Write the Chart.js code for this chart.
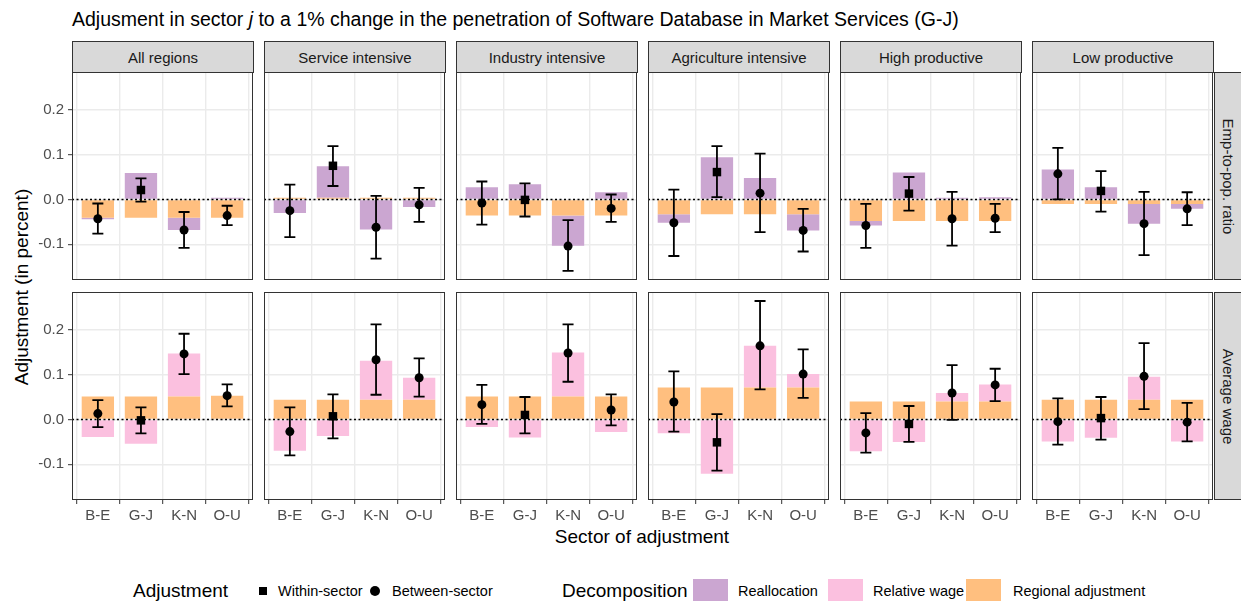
<!DOCTYPE html>
<html>
<head>
<meta charset="utf-8">
<script src="https://cdn.jsdelivr.net/npm/chart.js@4/dist/chart.umd.min.js"></script>
<style>
  body { margin: 0; background: #fff; font-family: "Liberation Sans", Arial, sans-serif; }
  #wrap { position: relative; width: 1241px; height: 601px; overflow: hidden; background: #fff; }
  canvas { position: absolute; }
  .strip { position: absolute; box-sizing: border-box; background: #D9D9D9; border: 1px solid #333;
           color: #1A1A1A; font-size: 15px; display: flex; align-items: center; justify-content: center; white-space: nowrap; }
  .txt { position: absolute; white-space: nowrap; }
  .title { left: 72px; top: 8px; font-size: 19.5px; color: #000; }
  .axtitle { font-size: 19px; color: #000; }
  .leg-title { font-size: 19px; color: #000; top: 580px; }
  .leg-lab { font-size: 14.5px; color: #000; top: 583px; }
  .sw { position: absolute; top: 579px; width: 35px; height: 24px; }
</style>
</head>
<body>
<div id="wrap">
  <div class="txt title">Adjusment in sector <i>j</i> to a 1% change in the penetration of Software Database in Market Services (G-J)</div>
  <div class="txt axtitle" style="left:22px; top:287px; transform:translate(-50%,-50%) rotate(-90deg);">Adjustment (in percent)</div>
  <div class="txt axtitle" style="left:642px; top:537px; transform:translate(-50%,-50%);">Sector of adjustment</div>

  <div class="txt leg-title" style="left:133px;">Adjustment</div>
  <div style="position:absolute; left:259px; top:587px; width:8px; height:8px; background:#000;"></div>
  <div class="txt leg-lab" style="left:278px;">Within-sector</div>
  <div style="position:absolute; left:370px; top:586px; width:10px; height:10px; border-radius:50%; background:#000;"></div>
  <div class="txt leg-lab" style="left:392px;">Between-sector</div>
  <div class="txt leg-title" style="left:562px;">Decomposition</div>
  <div class="sw" style="left:693px; background:#CBA6D1;"></div>
  <div class="txt leg-lab" style="left:738px;">Reallocation</div>
  <div class="sw" style="left:828px; background:#FBC0DF;"></div>
  <div class="txt leg-lab" style="left:873px;">Relative wage</div>
  <div class="sw" style="left:966px; background:#FFBF7F;"></div>
  <div class="txt leg-lab" style="left:1013px;">Regional adjustment</div>
</div>
<script>
const sectors = ['B-E', 'G-J', 'K-N', 'O-U'];
const regions = ['All regions', 'Service intensive', 'Industry intensive', 'Agriculture intensive', 'High productive', 'Low productive'];
const outcomes = ['Emp-to-pop. ratio', 'Average wage'];
const withinSector = 'G-J';
const yTicks = [-0.1, 0.0, 0.1, 0.2];

// Emp-to-pop. ratio: one row per region, one value per sector
const empRegional = [
  [-0.041, -0.041, -0.041, -0.041],
  [0.004, 0.004, 0.004, 0.004],
  [-0.036, -0.036, -0.036, -0.036],
  [-0.033, -0.033, -0.033, -0.033],
  [-0.048, -0.048, -0.048, -0.048],
  [-0.010, -0.010, -0.010, -0.010]
];
const empRealloc = [
  [-0.003, 0.059, -0.027, 0.004],
  [-0.030, 0.070, -0.067, -0.017],
  [0.027, 0.034, -0.067, 0.016],
  [-0.019, 0.094, 0.048, -0.036],
  [-0.010, 0.060, 0.004, 0.005],
  [0.067, 0.027, -0.044, -0.011]
];
const empTotal = [
  [-0.043, 0.021, -0.068, -0.036],
  [-0.025, 0.075, -0.062, -0.012],
  [-0.008, -0.001, -0.104, -0.020],
  [-0.052, 0.061, 0.014, -0.069],
  [-0.058, 0.013, -0.043, -0.042],
  [0.057, 0.019, -0.054, -0.021]
];
const empLow = [
  [-0.076, -0.005, -0.108, -0.057],
  [-0.084, 0.030, -0.132, -0.050],
  [-0.056, -0.038, -0.159, -0.050],
  [-0.126, 0.005, -0.073, -0.116],
  [-0.108, -0.025, -0.103, -0.073],
  [0.000, -0.027, -0.124, -0.057]
];
const empHigh = [
  [-0.009, 0.047, -0.028, -0.014],
  [0.033, 0.119, 0.008, 0.026],
  [0.040, 0.036, -0.046, 0.011],
  [0.022, 0.119, 0.102, -0.021],
  [-0.010, 0.050, 0.017, -0.010],
  [0.115, 0.063, 0.017, 0.016]
];

// Average wage
const wageRegional = [
  [0.051, 0.051, 0.051, 0.053],
  [0.044, 0.044, 0.044, 0.044],
  [0.051, 0.051, 0.051, 0.051],
  [0.071, 0.071, 0.071, 0.071],
  [0.040, 0.040, 0.040, 0.040],
  [0.044, 0.044, 0.044, 0.044]
];
const wageRelWage = [
  [-0.039, -0.054, 0.096, 0.000],
  [-0.070, -0.037, 0.087, 0.049],
  [-0.017, -0.040, 0.098, -0.028],
  [-0.031, -0.121, 0.093, 0.030],
  [-0.071, -0.050, 0.019, 0.038],
  [-0.049, -0.041, 0.051, -0.049]
];
const wageTotal = [
  [0.013, -0.002, 0.146, 0.053],
  [-0.027, 0.007, 0.133, 0.093],
  [0.033, 0.010, 0.148, 0.021],
  [0.039, -0.051, 0.164, 0.101],
  [-0.030, -0.010, 0.059, 0.077],
  [-0.005, 0.003, 0.096, -0.006]
];
const wageLow = [
  [-0.017, -0.031, 0.101, 0.029],
  [-0.080, -0.042, 0.055, 0.051],
  [-0.010, -0.031, 0.084, -0.013],
  [-0.027, -0.114, 0.067, 0.048],
  [-0.074, -0.050, -0.001, 0.041],
  [-0.056, -0.045, 0.023, -0.049]
];
const wageHigh = [
  [0.043, 0.027, 0.191, 0.078],
  [0.027, 0.056, 0.212, 0.136],
  [0.077, 0.050, 0.212, 0.056],
  [0.107, 0.012, 0.264, 0.156],
  [0.014, 0.030, 0.121, 0.113],
  [0.047, 0.050, 0.170, 0.037]
];

const COL_REALLOC = '#CBA6D1';
const COL_RELWAGE = '#FBC0DF';
const COL_REGIONAL = '#FFBF7F';
const FONT = '"Liberation Sans", Arial, sans-serif';

const PANEL_W = 181, PANEL_H = 208, PITCH = 192, LEFT0 = 72;
const ROW_TOPS = [72, 292];
const Y_W = 50, X_H = 28;
const Y_MIN = -0.1795, Y_MAX = 0.284;

const rows = [
  { bars: [[empRegional, COL_REGIONAL], [empRealloc, COL_REALLOC]], total: empTotal, lo: empLow, hi: empHigh },
  { bars: [[wageRegional, COL_REGIONAL], [wageRelWage, COL_RELWAGE]], total: wageTotal, lo: wageLow, hi: wageHigh }
];

// zero line, error bars and panel border, all placed with the chart's own scales
const panelExtras = {
  id: 'panelExtras',
  afterDatasetsDraw(chart, args, opts) {
    const { ctx, chartArea: a, scales: { x, y } } = chart;
    ctx.save();
    const y0 = Math.round(y.getPixelForValue(0)) + 0.5;
    ctx.strokeStyle = '#000';
    ctx.lineWidth = 1.5;
    ctx.setLineDash([2, 2.5]);
    ctx.beginPath();
    ctx.moveTo(a.left, y0);
    ctx.lineTo(a.right, y0);
    ctx.stroke();
    ctx.setLineDash([]);

    ctx.lineWidth = 1.8;
    opts.lo.forEach((lo, j) => {
      const px = x.getPixelForValue(j + 1);
      const top = y.getPixelForValue(opts.hi[j]);
      const bot = y.getPixelForValue(lo);
      ctx.beginPath();
      ctx.moveTo(px, top); ctx.lineTo(px, bot);
      ctx.moveTo(px - 5.5, top); ctx.lineTo(px + 5.5, top);
      ctx.moveTo(px - 5.5, bot); ctx.lineTo(px + 5.5, bot);
      ctx.stroke();
    });
    ctx.restore();
  },
  afterDraw(chart) {
    const { ctx, chartArea: a } = chart;
    ctx.save();
    ctx.strokeStyle = '#333';
    ctx.lineWidth = 1;
    ctx.strokeRect(a.left + 0.5, a.top + 0.5, a.right - a.left - 1, a.bottom - a.top - 1);
    ctx.restore();
  }
};

const wrap = document.getElementById('wrap');

function addStrip(text, left, top, w, h, vertical) {
  const d = document.createElement('div');
  d.className = 'strip';
  d.style.left = left + 'px';
  d.style.top = top + 'px';
  d.style.width = w + 'px';
  d.style.height = h + 'px';
  if (vertical) {
    const s = document.createElement('span');
    s.style.transform = 'rotate(90deg)';
    s.style.display = 'inline-block';
    s.textContent = text;
    d.appendChild(s);
  } else {
    d.textContent = text;
  }
  wrap.appendChild(d);
}

regions.forEach((name, i) => addStrip(name, LEFT0 + PITCH * i, 41, PANEL_W + 1, 32, false));
outcomes.forEach((name, r) => addStrip(name, 1214, ROW_TOPS[r], 30, PANEL_H, true));

rows.forEach((row, r) => {
  regions.forEach((region, i) => {
    const showY = i === 0;
    const showX = r === 1;
    const canvas = document.createElement('canvas');
    const w = PANEL_W + (showY ? Y_W : 0);
    const h = PANEL_H + (showX ? X_H : 0);
    canvas.width = w;
    canvas.height = h;
    canvas.style.left = (LEFT0 + PITCH * i - (showY ? Y_W : 0)) + 'px';
    canvas.style.top = ROW_TOPS[r] + 'px';
    wrap.appendChild(canvas);

    const datasets = row.bars.map(([arr, color]) => ({
      type: 'bar',
      data: sectors.map((s, j) => ({ x: j + 1, y: arr[i][j] })),
      backgroundColor: color,
      borderWidth: 0,
      barPercentage: 0.75,
      categoryPercentage: 1,
      order: 1
    }));
    datasets.push({
      type: 'line',
      data: sectors.map((s, j) => ({ x: j + 1, y: row.total[i][j] })),
      showLine: false,
      pointStyle: sectors.map(s => s === withinSector ? 'rect' : 'circle'),
      pointRadius: sectors.map(s => s === withinSector ? 6 : 4.5),
      pointBackgroundColor: '#000',
      pointBorderWidth: 0,
      order: 0
    });

    new Chart(canvas.getContext('2d'), {
      type: 'bar',
      data: { datasets },
      plugins: [panelExtras],
      options: {
        responsive: false,
        animation: false,
        events: [],
        layout: { padding: 0, autoPadding: false },
        plugins: {
          legend: { display: false },
          tooltip: { enabled: false },
          panelExtras: { lo: row.lo[i], hi: row.hi[i] }
        },
        scales: {
          x: {
            type: 'linear', min: 0.4, max: 4.6, stacked: true, offset: false,
            afterBuildTicks: s => { s.ticks = sectors.map((_, j) => ({ value: j + 1 })); },
            afterFit: s => { s.height = showX ? X_H : 0; s.paddingLeft = 0; s.paddingRight = 0; },
            grid: { color: '#EBEBEB', lineWidth: 1.4, drawTicks: showX, tickLength: 4, tickColor: '#333', tickWidth: 1 },
            border: { display: false },
            ticks: { display: showX, autoSkip: false, maxRotation: 0, padding: 3, color: '#4D4D4D',
                     font: { family: FONT, size: 15 }, callback: v => sectors[v - 1] }
          },
          y: {
            type: 'linear', min: Y_MIN, max: Y_MAX, stacked: true,
            afterBuildTicks: s => { s.ticks = yTicks.map(v => ({ value: v })); },
            afterFit: s => { s.width = showY ? Y_W : 0; s.paddingTop = 0; s.paddingBottom = 0; },
            grid: { color: '#EBEBEB', lineWidth: 1.4, drawTicks: showY, tickLength: 4, tickColor: '#333', tickWidth: 1 },
            border: { display: false },
            ticks: { display: showY, padding: 4, color: '#4D4D4D',
                     font: { family: FONT, size: 15 }, callback: v => v.toFixed(1) }
          }
        }
      }
    });
  });
});
</script>
</body>
</html>
